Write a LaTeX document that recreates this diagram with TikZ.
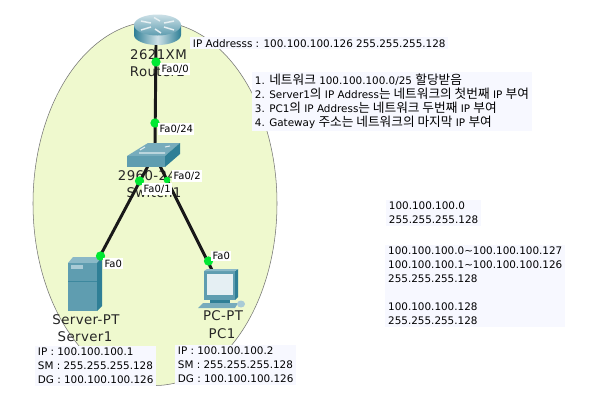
\documentclass[tikz,border=0pt]{standalone}
\usepackage{fontspec}
\usetikzlibrary{shapes.geometric}
\setmainfont{DejaVu Sans}
\newfontfamily\kr[Scale=1.22]{Noto Sans CJK KR}
\newfontfamily\devf[LetterSpace=3]{DejaVu Sans}
\definecolor{blob}{HTML}{EFF9CE}
\definecolor{note}{HTML}{F7F8FF}
\definecolor{dotgreen}{HTML}{00E832}
\definecolor{tealmid}{HTML}{5F9DB0}
\definecolor{tealdark}{HTML}{2F7F96}
\definecolor{teallight}{HTML}{A9CBD6}
\tikzset{
  notebox/.style={fill=note,inner xsep=2pt,inner ysep=1.5pt,anchor=north west,align=left,font=\fontsize{7.8}{10.5}\selectfont},
  portlbl/.style={fill=white,inner sep=1pt,anchor=west,font=\fontsize{7.5}{9}\selectfont},
  devlbl/.style={inner sep=0pt,font=\devf\fontsize{10}{11}\selectfont,text=black!85},
  wire/.style={line width=2.2pt,black!90},
  led/.style={circle,fill=dotgreen,inner sep=0pt,minimum size=7pt},
  anchorpt/.style={inner sep=0pt,minimum size=0pt}
}
\begin{document}
\begin{tikzpicture}[x=0.75pt,y=-0.75pt]
\useasboundingbox (0,0) rectangle (611,411);
\fill[white] (0,0) rectangle (611,411);
\node[draw=black!55,line width=0.4pt,fill=blob,ellipse,inner sep=0pt,minimum width=183pt,minimum height=273pt] (zone) at (155,203.5) {};
% anchors
\node[anchorpt] (router) at (156,44) {};
\node[anchorpt] (switch) at (155,146) {};
\node[anchorpt] (swl) at (148,166) {};
\node[anchorpt] (swr) at (160,166) {};
\node[anchorpt] (server) at (99,258) {};
\node[anchorpt] (pc) at (212,270) {};
% names below the wires
\node[devlbl] (rn1) at (158.5,55) {2621XM};
\node[devlbl] (rn2) at (157.5,72) {Router2};
\node[devlbl] (sn1) at (147,176) {2960-24};
\node[devlbl] (sn2) at (154,193) {Switch1};
% wires
\draw[wire] (router) -- (switch);
\draw[wire] (swl) -- (server);
\draw[wire] (swr) -- (pc);
% router
\shade[left color=tealdark,right color=tealdark,middle color=white!70!tealmid] (134,25) -- (134,35) arc[start angle=180,end angle=0,x radius=23.5,y radius=10] -- (181,25) -- cycle;
\shade[top color=teallight!60!white,bottom color=tealmid] (157.5,25) ellipse[x radius=23.5,y radius=10.5];
\draw[white!85!tealmid,line width=1.1pt] (141,21) -- (151,23) (174,21) -- (164,23) (141,30) -- (151,27) (174,30) -- (164,27) (154,17.5) -- (160,21) (161,33) -- (155,29);
% switch
\fill[tealmid!85!white] (127,156) -- (148,143) -- (180,143) -- (165,156) -- cycle;
\fill[tealmid] (127,156) -- (165,156) -- (165,167) -- (127,167) -- cycle;
\fill[tealdark] (165,156) -- (180,143) -- (180,154) -- (165,167) -- cycle;
\draw[white!80!tealmid,line width=0.8pt] (140,150) -- (145,147) (165,147) -- (170,146) (139,153) -- (165,153);
% server
\fill[teallight!60!tealmid] (68,263) -- (73,257) -- (102,257) -- (97,263) -- cycle;
\fill[tealmid] (68,263) rectangle (97,311);
\fill[tealdark] (97,263) -- (102,257) -- (102,306) -- (97,311) -- cycle;
\fill[teallight] (71,265) rectangle (83,269);
\draw[tealdark!70!tealmid,line width=0.5pt] (68,281) -- (97,281);
% pc
\fill[tealmid] (204,271) rectangle (235,300);
\fill[tealdark] (235,271) -- (238,269) -- (238,297) -- (235,300) -- cycle;
\fill[teallight!60!tealmid] (204,271) -- (207,269) -- (238,269) -- (235,271) -- cycle;
\fill[white!70!teallight] (207,274) rectangle (233,295);
\fill[tealdark] (210,300) rectangle (230,303);
\fill[tealmid!85!white] (198,308) -- (203,303) -- (238,303) -- (235,308) -- cycle;
\fill[teallight] (241,304) ellipse[x radius=4,y radius=3.5];
% LEDs
\node[led] (l1) at (156,62) {};
\node[led] (l2) at (155,123) {};
\node[led] (l3) at (139.5,181) {};
\node[led,minimum size=5pt] (l4) at (167,180) {};
\node[led] (l5) at (100.5,256) {};
\node[led] (l6) at (208.5,261) {};
% ports
\node[portlbl] (p1) at (160,69) {Fa0/0};
\node[portlbl] (p2) at (158,129) {Fa0/24};
\node[portlbl] (p3) at (172,176) {Fa0/2};
\node[portlbl] (p4) at (142,189) {Fa0/1};
\node[portlbl] (p5) at (103,263.5) {Fa0};
\node[portlbl] (p6) at (211,256) {Fa0};
% device names
\node[devlbl] (sv1) at (86,320) {Server-PT};
\node[devlbl] (sv2) at (85,337) {Server1};
\node[devlbl] (pc1) at (223,316) {PC-PT};
\node[devlbl] (pc2) at (222,334) {PC1};
% notes
\node[notebox] (ipr) at (190,37) {IP Addresss : 100.100.100.126 255.255.255.128};
\node[notebox] (steps) at (252,71.5) {1. {\kr 네트워크} 100.100.100.0/25 {\kr 할당받음}\\
2. Server1{\kr 의} IP Address{\kr 는 네트워크의 첫번째} IP {\kr 부여}\\
3. PC1{\kr 의} IP Address{\kr 는 네트워크 두번째} IP {\kr 부여}\\
4. Gateway {\kr 주소는 네트워크의 마지막} IP {\kr 부여}};
\node[notebox] (srv) at (35,346) {IP : 100.100.100.1\\SM : 255.255.255.128\\DG : 100.100.100.126};
\node[notebox] (pcn) at (175,344.5) {IP : 100.100.100.2\\SM : 255.255.255.128\\DG : 100.100.100.126};
\node[notebox] (net1) at (386,200) {100.100.100.0\\255.255.255.128};
\node[notebox,minimum width=135pt] (net2) at (385,245) {100.100.100.0\textasciitilde100.100.100.127\\100.100.100.1\textasciitilde100.100.100.126\\255.255.255.128\\[10.5pt]100.100.100.128\\255.255.255.128};
\end{tikzpicture}
\end{document}
